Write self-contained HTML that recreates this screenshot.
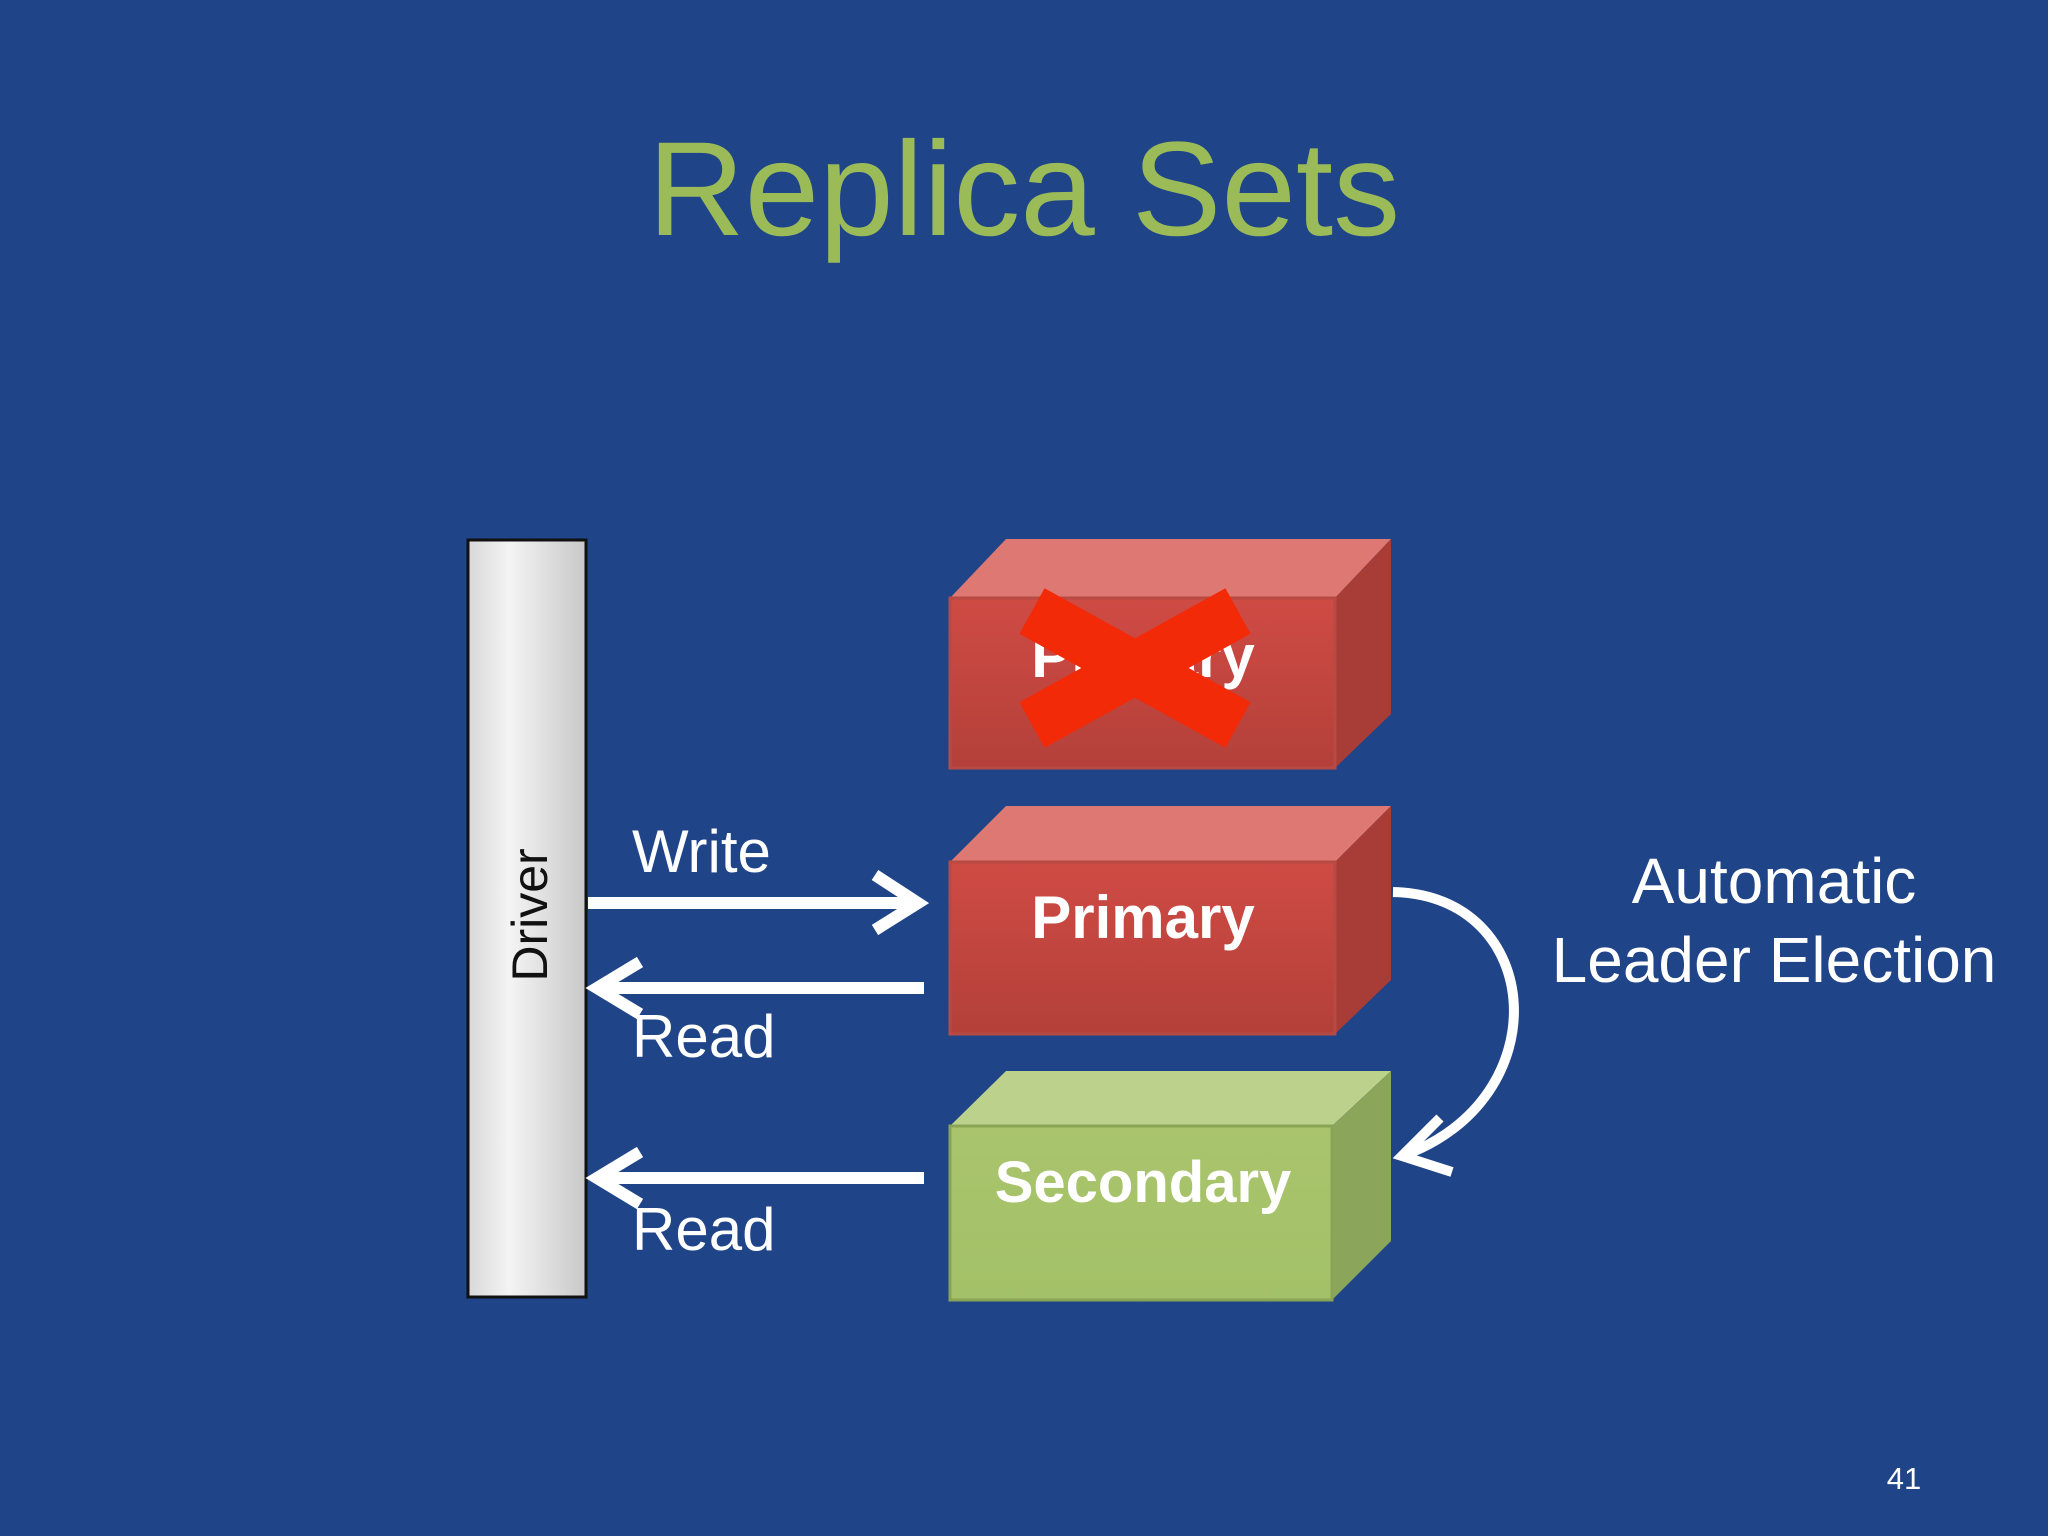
<!DOCTYPE html>
<html><head><meta charset="utf-8"><style>
html,body{margin:0;padding:0;}
body{width:2048px;height:1536px;background:#1f4488;overflow:hidden;position:relative;font-family:"Liberation Sans",sans-serif;}
</style></head><body>
<svg width="2048" height="1536" viewBox="0 0 2048 1536" style="position:absolute;left:0;top:0">
<defs>
<linearGradient id="drv" x1="0" x2="1" y1="0" y2="0">
<stop offset="0" stop-color="#d8d8d8"/><stop offset="0.35" stop-color="#f4f4f4"/><stop offset="1" stop-color="#c8c8c8"/></linearGradient>
<linearGradient id="redf" x1="0" x2="0" y1="0" y2="1">
<stop offset="0" stop-color="#cf4b44"/><stop offset="1" stop-color="#b4403a"/></linearGradient>
<linearGradient id="grnf" x1="0" x2="0" y1="0" y2="1">
<stop offset="0" stop-color="#a9c46c"/><stop offset="1" stop-color="#a3c168"/></linearGradient>
</defs>
<text x="1024" y="235" text-anchor="middle" font-size="134" fill="#9bbb59">Replica Sets</text>

<rect x="468" y="540" width="118" height="757" fill="url(#drv)" stroke="#111" stroke-width="3"/>
<text transform="translate(547,915) rotate(-90)" text-anchor="middle" font-size="50" fill="#111">Driver</text>

<!-- box 1 -->
<polygon points="950,598 1006,539 1391,539 1335,598" fill="#dd7872"/>
<polygon points="1335,598 1391,539 1391,714 1335,768" fill="#a83c36"/>
<rect x="950" y="598" width="385" height="170" fill="url(#redf)" stroke="#b84a44" stroke-width="3"/>
<text x="1143" y="677" text-anchor="middle" font-size="60" font-weight="bold" fill="#fff">Primary</text>
<line x1="1032" y1="611" x2="1238" y2="725" stroke="#f22a08" stroke-width="52"/>
<line x1="1032" y1="725" x2="1238" y2="611" stroke="#f22a08" stroke-width="52"/>

<!-- box 2 -->
<polygon points="950,862 1006,806 1391,806 1335,862" fill="#dd7872"/>
<polygon points="1335,862 1391,806 1391,980 1335,1034" fill="#a83c36"/>
<rect x="950" y="862" width="385" height="172" fill="url(#redf)" stroke="#b84a44" stroke-width="3"/>
<text x="1143" y="938" text-anchor="middle" font-size="60" font-weight="bold" fill="#fff">Primary</text>

<!-- box 3 -->
<polygon points="950,1126 1006,1071 1391,1071 1332,1126" fill="#bcd28c"/>
<polygon points="1332,1126 1391,1071 1391,1241 1332,1300" fill="#8ba55a"/>
<rect x="950" y="1126" width="382" height="174" fill="url(#grnf)" stroke="#8aa455" stroke-width="3"/>
<text x="1143" y="1202" text-anchor="middle" font-size="58" font-weight="bold" fill="#fff">Secondary</text>

<!-- arrows -->
<g stroke="#fff" stroke-width="12" fill="none">
<line x1="588" y1="903" x2="918" y2="903"/>
<polyline points="875,875 918,903 875,930"/>
<line x1="596" y1="988" x2="924" y2="988"/>
<polyline points="640,962 597,988 640,1014"/>
<line x1="596" y1="1178" x2="924" y2="1178"/>
<polyline points="640,1152 597,1178 640,1204"/>
<path d="M1393,892 C1545,895 1560,1100 1402,1156" stroke-width="10"/>
<polyline points="1440,1118 1402,1156 1452,1172" stroke-width="10"/>
</g>
<g font-size="60" fill="#fff">
<text x="632" y="872">Write</text>
<text x="632" y="1057">Read</text>
<text x="632" y="1250">Read</text>
</g>
<g font-size="64" fill="#fff" text-anchor="middle">
<text x="1774" y="903">Automatic</text>
<text x="1774" y="982">Leader Election</text>
</g>
<text x="1904" y="1489" text-anchor="middle" font-size="31" fill="#fff">41</text>
</svg>
</body></html>
